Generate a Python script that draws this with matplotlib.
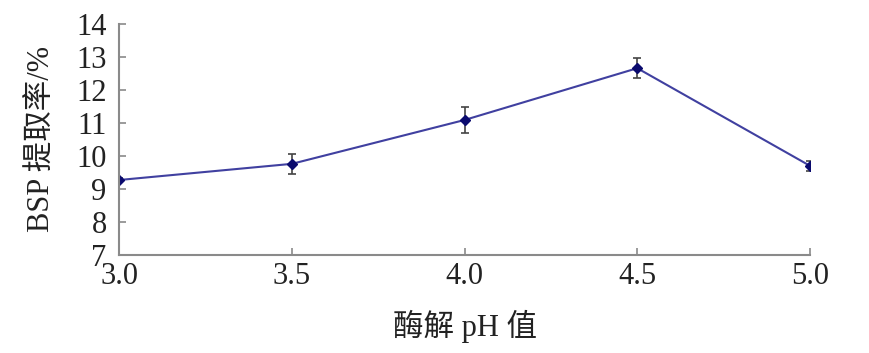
import matplotlib
matplotlib.use("Agg")
import matplotlib.pyplot as plt

# 酶解 pH 对 BSP 提取率的影响
ph = [3.0, 3.5, 4.0, 4.5, 5.0]
rate = [9.27, 9.76, 11.09, 12.66, 9.70]
err = [0.06, 0.30, 0.40, 0.30, 0.15]
y_ticks = [7, 8, 9, 10, 11, 12, 13, 14]

plt.rcParams["font.family"] = ["Liberation Serif", "Noto Sans CJK SC"]

fig = plt.figure(figsize=(8.7, 3.53), dpi=100)
ax = fig.add_axes([0.137, 0.278, 0.794, 0.654])

ax.errorbar(ph, rate, yerr=err, color="#4040a0", linewidth=1.5,
            marker="D", markersize=5, markerfacecolor="#0a0a6e",
            markeredgecolor="#0a0a6e", ecolor="#444444", elinewidth=1.2,
            capsize=3, capthick=1.2)

ax.set_xlim(3.0, 5.0)
ax.set_ylim(7, 14)
ax.set_xticks(ph)
ax.set_xticklabels([f"{v:.1f}" for v in ph])
ax.set_yticks(y_ticks)

for side in ("top", "right"):
    ax.spines[side].set_visible(False)
for side in ("left", "bottom"):
    ax.spines[side].set_color("#8a8a8a")
    ax.spines[side].set_linewidth(1.5)

ax.tick_params(direction="in", length=5, width=1.2, color="#8a8a8a",
               labelsize=22, labelcolor="#222222")
ax.tick_params(axis="y", pad=9)
ax.tick_params(axis="x", pad=5)

ax.set_xlabel("酶解 pH 值", fontsize=22, color="#222222", labelpad=14)
ax.set_ylabel("BSP 提取率/%", fontsize=22, color="#222222", labelpad=14)

fig.savefig("out.png", dpi=100)
